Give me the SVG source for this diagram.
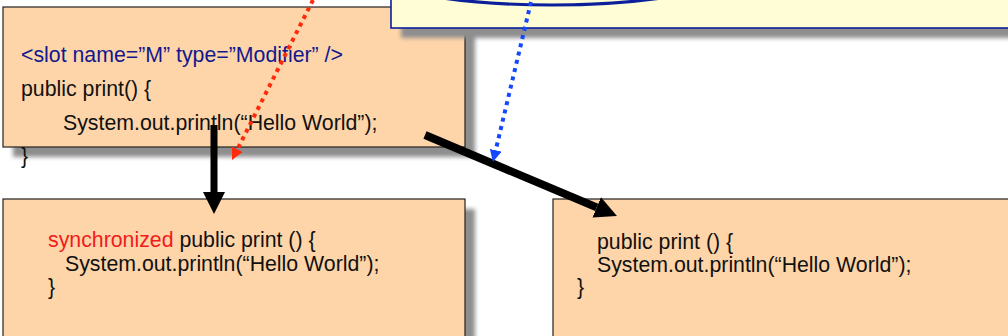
<svg xmlns="http://www.w3.org/2000/svg" width="1008" height="336" viewBox="0 0 1008 336">
  <style>
    .box { fill: #FED5A9; stroke: #222222; stroke-width: 1.2; }
    .note { fill: #FFFDD5; stroke: #0B1E9C; stroke-width: 1.6; }
    .shadow { fill: #8E8E8E; filter: url(#soft); }
    .code { font-family: "Liberation Sans", Arial, sans-serif; font-size: 21.3px; fill: #111111; }
    .tag { fill: #12198E; }
    .kw { fill: #F21B1B; }
    .flow { stroke: #000000; fill: none; }
    .dotRed { stroke: #FF2A0A; stroke-width: 4; stroke-dasharray: 4 4.5; fill: none; }
    .dotBlue { stroke: #1448FF; stroke-width: 4; stroke-dasharray: 4 4.5; fill: none; }
  </style>
  <defs>
    <filter id="soft" x="-5%" y="-20%" width="110%" height="140%">
      <feGaussianBlur stdDeviation="2"/>
    </filter>
    <marker id="headBlack" viewBox="0 -11 22 22" refX="0" refY="0" markerWidth="22" markerHeight="22" markerUnits="userSpaceOnUse" orient="auto">
      <path d="M0,-11 L22,0 L0,11 z" fill="#000000"/>
    </marker>
    <marker id="headRed" viewBox="0 -6 12 12" refX="0" refY="0" markerWidth="12" markerHeight="12" markerUnits="userSpaceOnUse" orient="auto">
      <path d="M0,-6 L12,0 L0,6 z" fill="#FF2A0A"/>
    </marker>
    <marker id="headBlue" viewBox="0 -6 12 12" refX="0" refY="0" markerWidth="12" markerHeight="12" markerUnits="userSpaceOnUse" orient="auto">
      <path d="M0,-6 L12,0 L0,6 z" fill="#1448FF"/>
    </marker>
  </defs>

  <rect width="1008" height="336" fill="#FFFFFF"/>

  <!-- template method with a modifier slot -->
  <g id="template">
    <rect class="shadow" x="13" y="17" width="462" height="140"/>
    <rect class="box" x="3" y="7" width="462" height="140"/>
    <text class="code tag" x="21" y="62">&lt;slot name=”M” type=”Modifier” /&gt;</text>
    <text class="code" x="21" y="96">public print() {</text>
    <text class="code" x="63" y="130">System.out.println(“Hello World”);</text>
    <text class="code" x="21" y="163">}</text>
  </g>

  <!-- slot binding note -->
  <g id="binding">
    <rect class="shadow" x="401" y="-2" width="620" height="40"/>
    <rect class="note" x="391" y="-12" width="630" height="40"/>
    <ellipse cx="552" cy="-45" rx="212" ry="50" fill="none" stroke="#0B1E9C" stroke-width="3.2"/>
  </g>

  <!-- generated: synchronized variant -->
  <g id="synchronized">
    <rect class="shadow" x="13" y="209" width="462" height="140"/>
    <rect class="box" x="3" y="199" width="462" height="150"/>
    <text class="code" x="48" y="247"><tspan class="kw">synchronized</tspan> public print () {</text>
    <text class="code" x="65" y="271">System.out.println(“Hello World”);</text>
    <text class="code" x="48" y="294">}</text>
  </g>

  <!-- generated: empty modifier variant -->
  <g id="plain">
    <rect class="shadow" x="563" y="209" width="462" height="140"/>
    <rect class="box" x="553" y="199" width="470" height="150"/>
    <text class="code" x="597" y="249">public print () {</text>
    <text class="code" x="597" y="272">System.out.println(“Hello World”);</text>
    <text class="code" x="577" y="294">}</text>
  </g>

  <g id="connectors">
    <line class="flow" x1="214" y1="125" x2="214" y2="192" stroke-width="7" marker-end="url(#headBlack)"/>
    <line class="flow" x1="425" y1="135" x2="596.7" y2="207.4" stroke-width="8" marker-end="url(#headBlack)"/>
    <line class="dotRed" x1="313" y1="0" x2="237.4" y2="149.3" marker-end="url(#headRed)"/>
    <line class="dotBlue" x1="531" y1="2" x2="495.7" y2="150.3" marker-end="url(#headBlue)"/>
  </g>
</svg>
